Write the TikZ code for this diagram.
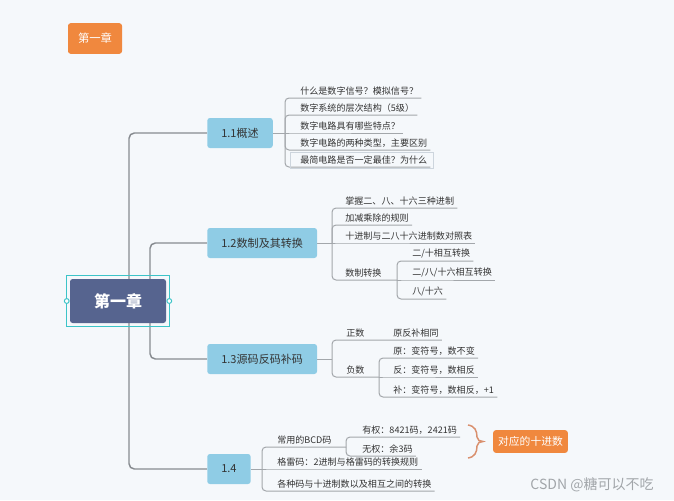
\documentclass[tikz,border=0pt]{standalone}
\usepackage{fontspec}
\setmainfont{Noto Sans CJK SC}
\usepackage{tikz}
\usetikzlibrary{calc,backgrounds}
\definecolor{bg}{HTML}{F5F8FB}
\definecolor{topicbg}{HTML}{8FCCE5}
\definecolor{rootbg}{HTML}{56648F}
\definecolor{selc}{HTML}{3CC4C8}
\definecolor{accent}{HTML}{F0883E}
\definecolor{bracec}{HTML}{D9906E}
\definecolor{ink}{HTML}{333333}
\definecolor{trunkc}{HTML}{878B90}
\definecolor{twigc}{HTML}{A3A7AB}
\definecolor{hlc}{HTML}{CDD5DD}
\definecolor{wmark}{HTML}{A2A6AA}
\tikzset{
  trunk/.style={draw=trunkc, line width=1.1pt, rounded corners=4pt},
  twig/.style={draw=twigc, line width=0.75pt, rounded corners=3pt},
  chapter/.style={
    fill=rootbg, text=white, rounded corners=2pt,
    minimum width=72pt, minimum height=33pt,
    font=\fontsize{12}{14}\selectfont\bfseries
  },
  sel/.style={draw=selc, line width=0.75pt},
  topic/.style={
    fill=topicbg, text=ink, rounded corners=2pt, anchor=west,
    minimum height=22.5pt, inner xsep=10.5pt,
    font=\fontsize{8.3}{10}\selectfont
  },
  leaf/.style={
    text=ink, anchor=south west, inner xsep=2.25pt, inner ysep=1.6pt,
    font=\fontsize{6.8}{8}\selectfont
  },
  tag/.style={
    fill=accent, text=white, rounded corners=2pt,
    font=\fontsize{8.5}{10}\selectfont
  },
  hl/.style={draw=hlc, line width=0.6pt}
}
\begin{document}
\begin{tikzpicture}[x=0.75pt, y=-0.75pt]
  \useasboundingbox (0,0) rectangle (674,500);
  \node[tag, minimum width=40.5pt, minimum height=23pt] (tag) at (95,38.5) {第一章};

  \node[chapter] (ch) at (118,301) {第一章};
  \draw[sel] ([shift={(-3,-3)}]ch.north west) rectangle ([shift={(3,3)}]ch.south east);
  \draw[sel, fill=white] ($(ch.west)+(-3,0)$) circle (1.8pt);
  \draw[sel, fill=white] ($(ch.east)+(3,0)$) circle (1.8pt);

  \node[topic] (n11) at (207,133) {1.1概述};
  \node[topic] (n12) at (207,243) {1.2数制及其转换};
  \node[topic] (n13) at (207,359) {1.3源码反码补码};
  \node[topic] (n14) at (207,469) {1.4};

  \coordinate (s11) at (285,133);
  \node[leaf] (a1) at (297,98) {什么是数字信号？模拟信号？};
  \node[leaf] (a2) at (297,115) {数字系统的层次结构（5级）};
  \node[leaf] (a3) at (297,133) {数字电路具有哪些特点？};
  \node[leaf] (a4) at (297,150) {数字电路的两种类型，主要区别};
  \node[leaf] (a5) at (297,167) {最简电路是否一定最佳？为什么};
  \draw[hl] ([shift={(-7,-1)}]a5.north west) rectangle ([shift={(3,1)}]a5.south east);

  \coordinate (s12) at (332,243);
  \node[leaf] (b1) at (342,208) {掌握二、八、十六三种进制};
  \node[leaf] (b2) at (342,225) {加减乘除的规则};
  \node[leaf] (b3) at (342,243) {十进制与二八十六进制数对照表};
  \node[leaf] (b4) at (342,280) {数制转换};
  \coordinate (s124) at (397,280);
  \node[leaf] (e1) at (409,261) {二/十相互转换};
  \node[leaf] (e2) at (409,280) {二/八/十六相互转换};
  \node[leaf] (e3) at (409,299) {八/十六};

  \coordinate (s13) at (332,359);
  \node[leaf] (c1) at (343,340) {正数};
  \node[leaf] (c2) at (343,377) {负数};
  \coordinate (s132) at (379,377);
  \node[leaf] (f0) at (390,340) {原反补相同};
  \node[leaf] (f1) at (390,358) {原：变符号，数不变};
  \node[leaf] (f2) at (390,377) {反：变符号，数相反};
  \node[leaf] (f3) at (390,397) {补：变符号，数相反，+1};

  \coordinate (s14) at (262,469);
  \node[leaf] (g1) at (274,447) {常用的BCD码};
  \node[leaf] (g2) at (274,469) {格雷码：2进制与格雷码的转换规则};
  \node[leaf] (g3) at (274,491) {各种码与十进制数以及相互之间的转换};
  \coordinate (s141) at (346,447);
  \node[leaf] (h1) at (359,437) {有权：8421码，2421码};
  \node[leaf] (h2) at (359,456) {无权：余3码};

  \draw[bracec, line width=1.1pt] (468,425) .. controls (475,426) and (477,431) .. (477,437)
    .. controls (477,440) and (480,441.5) .. (483,441.5)
    .. controls (480,441.5) and (477,443) .. (477,446)
    .. controls (477,452) and (475,457) .. (468,458);
  \node[tag, minimum width=56pt, minimum height=17pt, font=\fontsize{8.1}{10}\selectfont] (dec) at (530.5,441.5) {对应的十进数};

  \node[text=wmark, font=\fontsize{10.5}{12}\selectfont] (wm) at (592,485) {CSDN @糖可以不吃};

  \begin{scope}[on background layer]
    \fill[bg] (0,0) rectangle (674,500);
    \draw[trunk] (n11.west) -| ($(ch.center)+(11,0)$) |- (n14.west);
    \draw[trunk] (n12.west) -| ($(ch.center)+(32,0)$) |- (n13.west);

    \draw[twig] (n11.east) -- (s11);
    \draw[twig] (s11) |- (a1.south west) -- (a1.south east);
    \draw[twig] (s11) |- (a2.south west) -- (a2.south east);
    \draw[twig] (s11) -- (a3.south west) -- (a3.south east);
    \draw[twig] (s11) |- (a4.south west) -- (a4.south east);
    \draw[twig] (s11) |- (a5.south west) -- (a5.south east);

    \draw[twig] (n12.east) -- (s12);
    \draw[twig] (s12) |- (b1.south west) -- (b1.south east);
    \draw[twig] (s12) |- (b2.south west) -- (b2.south east);
    \draw[twig] (s12) -- (b3.south west) -- (b3.south east);
    \draw[twig] (s12) |- (b4.south west) -- (s124);
    \draw[twig] (s124) |- (e1.south west) -- (e1.south east);
    \draw[twig] (s124) -- (e2.south west) -- (e2.south east);
    \draw[twig] (s124) |- (e3.south west) -- (e3.south east);

    \draw[twig] (n13.east) -- (s13);
    \draw[twig] (s13) |- (c1.south west) -- (f0.south east);
    \draw[twig] (s13) |- (c2.south west) -- (s132);
    \draw[twig] (s132) |- (f1.south west) -- (f1.south east);
    \draw[twig] (s132) -- (f2.south west) -- (f2.south east);
    \draw[twig] (s132) |- (f3.south west) -- (f3.south east);

    \draw[twig] (n14.east) -- (s14);
    \draw[twig] (s14) |- (g1.south west) -- (s141);
    \draw[twig] (s14) -- (g2.south west) -- (g2.south east);
    \draw[twig] (s14) |- (g3.south west) -- (g3.south east);
    \draw[twig] (s141) |- (h1.south west) -- (h1.south east);
    \draw[twig] (s141) |- (h2.south west) -- (h2.south east);
  \end{scope}
\end{tikzpicture}
\end{document}
